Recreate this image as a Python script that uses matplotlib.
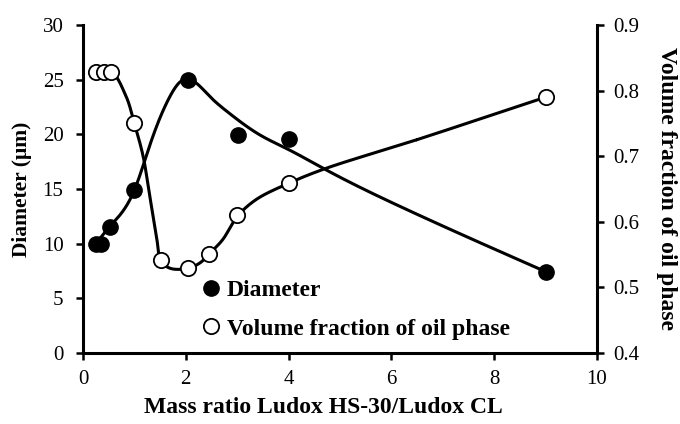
import numpy as np
import matplotlib
matplotlib.use("Agg")
import matplotlib.pyplot as plt
from matplotlib.lines import Line2D

# Data
ratio_d = [0.25, 0.36, 0.52, 1.0, 2.04, 3.01, 4.01, 9.0]
diameter = [10.0, 10.0, 11.55, 14.9, 25.0, 19.95, 19.55, 7.44]

ratio_v = [0.26, 0.41, 0.55, 1.0, 1.52, 2.04, 2.46, 3.0, 4.01, 9.0]
vol_frac = [0.829, 0.829, 0.829, 0.750, 0.541, 0.529, 0.551, 0.610, 0.659, 0.790]

# smoothed trend curves
trend_d_x = [0.25, 0.52, 1.0, 1.30, 1.69, 1.89, 2.05, 2.47, 2.80, 3.44, 3.96, 4.71,
             6.17, 7.46, 9.0]
trend_d_y = [10.0, 11.55, 14.9, 19.0, 23.45, 24.8, 25.05, 23.45, 22.1, 19.95, 18.7, 16.8,
             13.4, 10.64, 7.44]
trend_v_x = [0.26, 0.55, 0.84, 1.0, 1.17, 1.30, 1.43, 1.52, 1.70, 2.04,
             2.27, 2.46, 2.72, 3.0, 3.37, 4.01, 4.71, 6.49, 9.0]
trend_v_y = [0.829, 0.829, 0.791, 0.750, 0.700, 0.639, 0.578, 0.540, 0.529,
             0.529, 0.537, 0.551, 0.573, 0.608, 0.634, 0.659, 0.681, 0.725, 0.790]


def natural_spline(x, y, n=600):
    x = np.asarray(x, float)
    y = np.asarray(y, float)
    k = len(x)
    h = np.diff(x)
    A = np.zeros((k, k))
    r = np.zeros(k)
    A[0, 0] = A[-1, -1] = 1.0
    for i in range(1, k - 1):
        A[i, i - 1] = h[i - 1]
        A[i, i] = 2 * (h[i - 1] + h[i])
        A[i, i + 1] = h[i]
        r[i] = 6 * ((y[i + 1] - y[i]) / h[i] - (y[i] - y[i - 1]) / h[i - 1])
    M = np.linalg.solve(A, r)
    xs = np.linspace(x[0], x[-1], n)
    idx = np.clip(np.searchsorted(x, xs) - 1, 0, k - 2)
    x0, x1 = x[idx], x[idx + 1]
    hh = x1 - x0
    a = (x1 - xs) / hh
    b = (xs - x0) / hh
    ys = (a * y[idx] + b * y[idx + 1]
          + ((a**3 - a) * M[idx] + (b**3 - b) * M[idx + 1]) * hh**2 / 6)
    return xs, ys


def centripetal_cr(x, y, sx, sy, n=40):
    """Centripetal Catmull-Rom spline through points, computed in scaled space."""
    P = np.column_stack([np.asarray(x, float) * sx, np.asarray(y, float) * sy])
    P = np.vstack([2 * P[0] - P[1], P, 2 * P[-1] - P[-2]])
    out = []
    for i in range(1, len(P) - 2):
        p0, p1, p2, p3 = P[i - 1], P[i], P[i + 1], P[i + 2]
        t0 = 0.0
        t1 = t0 + np.linalg.norm(p1 - p0) ** 0.5
        t2 = t1 + np.linalg.norm(p2 - p1) ** 0.5
        t3 = t2 + np.linalg.norm(p3 - p2) ** 0.5
        t = np.linspace(t1, t2, n)[:, None]
        a1 = (t1 - t) / (t1 - t0) * p0 + (t - t0) / (t1 - t0) * p1
        a2 = (t2 - t) / (t2 - t1) * p1 + (t - t1) / (t2 - t1) * p2
        a3 = (t3 - t) / (t3 - t2) * p2 + (t - t2) / (t3 - t2) * p3
        b1 = (t2 - t) / (t2 - t0) * a1 + (t - t0) / (t2 - t0) * a2
        b2 = (t3 - t) / (t3 - t1) * a2 + (t - t1) / (t3 - t1) * a3
        c = (t2 - t) / (t2 - t1) * b1 + (t - t1) / (t2 - t1) * b2
        out.append(c)
    out = np.vstack(out)
    return out[:, 0] / sx, out[:, 1] / sy


plt.rcParams['font.family'] = ['Liberation Serif', 'DejaVu Serif']

fig = plt.figure(figsize=(6.8, 4.24), dpi=100)
ax = fig.add_axes([0.122, 0.1675, 0.756, 0.7735])
ax2 = ax.twinx()

MS = 11
# diameter
cx, cy = natural_spline(trend_d_x, trend_d_y)
ax.plot(cx, cy, color='black', lw=2.2, zorder=2)
ax.plot(ratio_d, diameter, 'o', color='black', ms=MS, zorder=3)

# volume fraction
vx, vy = centripetal_cr(trend_v_x, trend_v_y, 51.4, 328 / 0.5)
ax2.plot(vx, vy, color='black', lw=2.2, zorder=2)
ax2.plot(ratio_v, vol_frac, 'o', mfc='white', mec='black', mew=1.3, ms=MS, zorder=3)

ax.set_xlim(0, 10)
ax.set_ylim(0, 30)
ax2.set_ylim(0.4, 0.9)
ax.set_xticks([0, 2, 4, 6, 8, 10])
ax.set_yticks([0, 5, 10, 15, 20, 25, 30])
ax2.set_yticks([0.4, 0.5, 0.6, 0.7, 0.8, 0.9])
ax2.set_yticklabels(['0.4', '0.5', '0.6', '0.7', '0.8', '0.9'])

for a in (ax, ax2):
    a.spines['top'].set_visible(False)
    for s in ('left', 'right', 'bottom'):
        a.spines[s].set_linewidth(2.2)
    a.tick_params(direction='out', width=1.8, length=5, labelsize=15)
ax.spines['right'].set_visible(False)
ax2.spines['left'].set_visible(False)
ax2.spines['bottom'].set_visible(False)
ax.tick_params(axis='x', pad=7)
ax.tick_params(axis='y', pad=9)
ax2.tick_params(axis='y', pad=7)

ax.set_xlabel('Mass ratio Ludox HS-30/Ludox CL', fontsize=17, fontweight='bold', labelpad=6)
ax.xaxis.set_label_coords(0.467, -0.135)
ax.set_ylabel('Diameter (μm)', fontsize=15.5, fontweight='bold', labelpad=8)
ax2.set_ylabel('Volume fraction of oil phase', fontsize=17, fontweight='bold',
               rotation=270, labelpad=27)

handles = [
    Line2D([], [], marker='o', ls='none', color='black', ms=MS),
    Line2D([], [], marker='o', ls='none', mfc='white', mec='black', mew=1.3, ms=MS),
]
leg = ax.legend(handles, ['Diameter', 'Volume fraction of oil phase'],
                loc='lower left', bbox_to_anchor=(0.19, -0.01), frameon=False,
                prop={'weight': 'bold', 'size': 17}, handletextpad=0.05,
                labelspacing=0.72, handlelength=1.2, borderaxespad=0.3)

fig.savefig('out.png', dpi=100)
